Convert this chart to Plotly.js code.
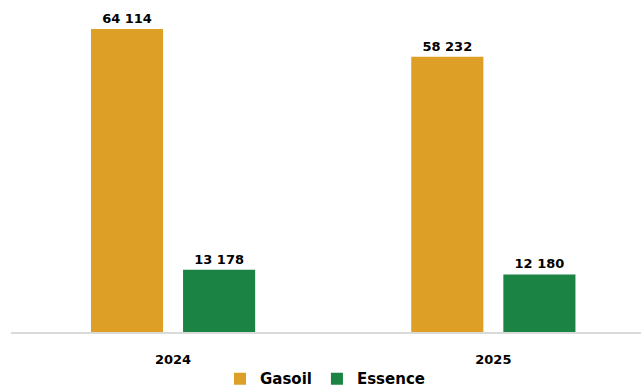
<!DOCTYPE html>
<html><head><meta charset="utf-8">
<script src="https://cdn.plot.ly/plotly-3.0.1.min.js"></script>
<style>html,body{margin:0;padding:0;background:#fff}#c{width:641px;height:389px}</style>
</head><body><div id="c"></div>
<script>
const years = ['2024', '2025'];
const gasoil = [64114, 58232];
const essence = [13178, 12180];
const seriesNames = ['Gasoil', 'Essence'];

const FONT = 'DejaVu Sans, Liberation Sans, sans-serif';
const labelFont = {family: FONT, size: 13, color: '#000', weight: 'bold'};

const traces = [
  {type: 'bar', name: seriesNames[0], x: years, y: gasoil, marker: {color: '#DE9F27'},
   texttemplate: '%{y:,d}', textposition: 'outside', textfont: labelFont, cliponaxis: false, hoverinfo: 'none'},
  {type: 'bar', name: seriesNames[1], x: years, y: essence, marker: {color: '#1B8343'},
   texttemplate: '%{y:,d}', textposition: 'outside', textfont: labelFont, cliponaxis: false, hoverinfo: 'none'}
];

const layout = {
  width: 641, height: 389,
  margin: {l: 11, r: 0, t: 1, b: 57},
  paper_bgcolor: '#fff', plot_bgcolor: '#fff',
  separators: ', ',
  barmode: 'group', bargap: 0.425, bargroupgap: 0.217,
  showlegend: true,
  legend: {orientation: 'h', x: 0.507, xanchor: 'center', xref: 'container', y: 0.026, yref: 'container', yanchor: 'middle',
           font: {family: FONT, size: 15, color: '#000', weight: 'bold'}, traceorder: 'normal', itemwidth: 30},
  xaxis: {type: 'category', range: [-0.506, 1.461], showline: true, linecolor: '#D9D9D9', linewidth: 1.5,
          ticks: '', showgrid: false, zeroline: false, ticklabelstandoff: 15,
          tickfont: {family: FONT, size: 13, color: '#000', weight: 'bold'}},
  yaxis: {range: [0, 70038], visible: false, showgrid: false, zeroline: false},
  font: {family: FONT}
};
Plotly.newPlot('c', traces, layout, {displayModeBar: false, staticPlot: true});
</script></body></html>
